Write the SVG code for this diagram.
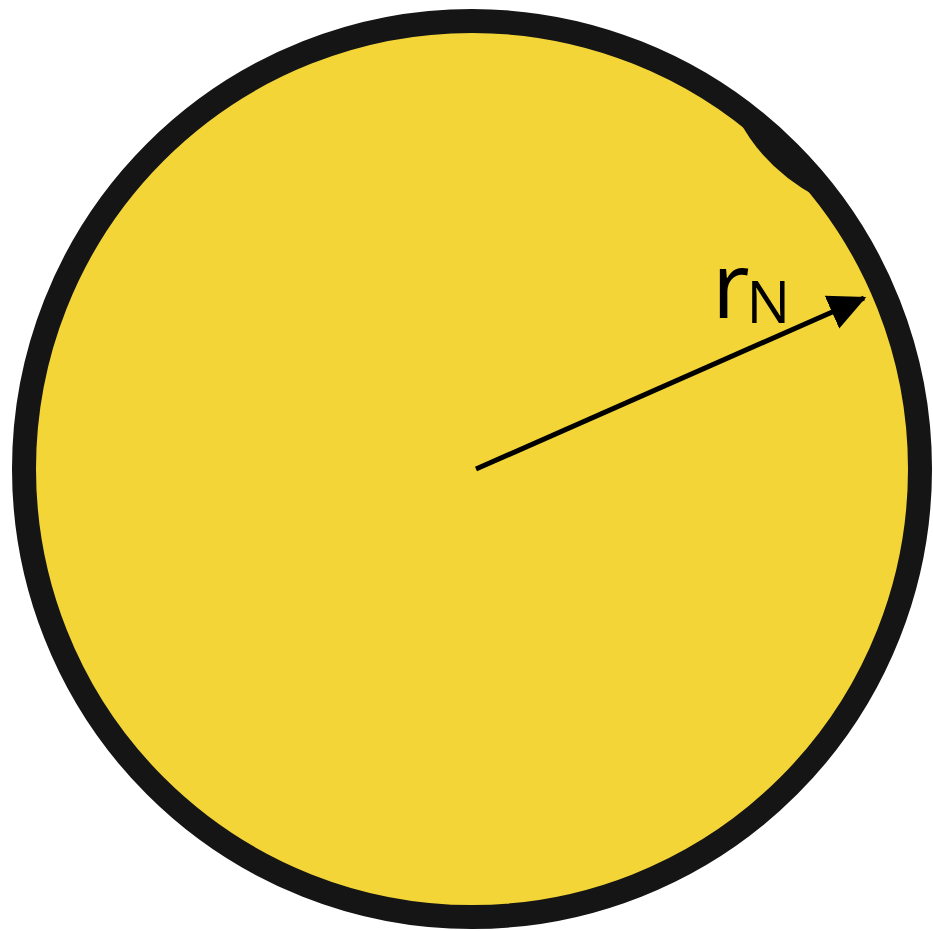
<svg xmlns="http://www.w3.org/2000/svg" width="933" height="931" viewBox="0 0 933 931">
<defs>
<style>
.body{fill:#F3D537;stroke:#151515;stroke-width:24}
.blob{fill:#151515}
.arrow{stroke:#000;stroke-width:5;fill:none}
.lbl{font-family:"Open Sans","Noto Sans",sans-serif;fill:#000}
</style>
<marker id="ah" markerWidth="8" markerHeight="8" refX="7" refY="4" orient="auto" markerUnits="strokeWidth">
<path d="M0,0.4 L7.5,4 L0,7.6 Z" fill="#000"/>
</marker>
</defs>
<g id="circle-node">
<circle class="body" cx="472" cy="469" r="448"/>
<path class="blob" d="M738,118 A440,440 0 0 1 818.7,198 Q763,168 738,118 Z"/>
</g>
<g id="connectors">
<line class="arrow" x1="476" y1="469" x2="864" y2="298" marker-end="url(#ah)"/>
</g>
<g id="label">
<text class="lbl" x="712" y="318" font-size="92">r<tspan font-size="58" dx="-3" dy="5">N</tspan></text>
</g>
</svg>
